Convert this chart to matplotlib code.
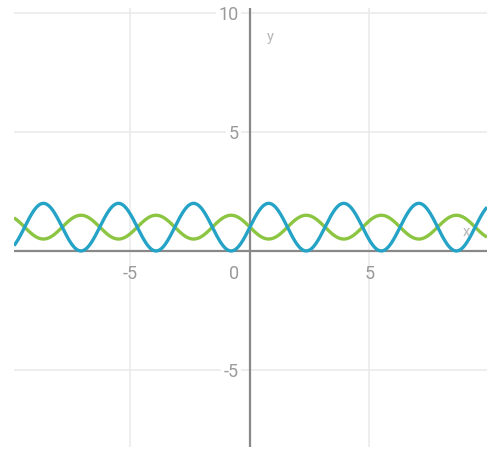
import matplotlib
matplotlib.use("Agg")
import matplotlib.pyplot as plt
import numpy as np

plt.rcParams['font.family'] = ['Roboto', 'DejaVu Sans']

# view window and ticks
x_min, x_max = -9.87, 9.92
y_min, y_max = -8.24, 10.21
x_ticks = [-5, 5]
y_ticks = [-5, 5, 10]

# the two plotted functions
x = np.linspace(x_min, x_max, 1000)
blue_y = 1 + np.sin(2 * x)
green_y = 1 - 0.5 * np.sin(2 * x)

fig = plt.figure(figsize=(5, 4.68), dpi=100)
ax = fig.add_axes([14 / 500, 1 - 447 / 468, 473 / 500, 439 / 468])
ax.set_xlim(x_min, x_max)
ax.set_ylim(y_min, y_max)
for s in ax.spines.values():
    s.set_visible(False)
ax.set_xticks([])
ax.set_yticks([])

grid_col = "#ebebeb"
for t in x_ticks:
    ax.axvline(t, color=grid_col, lw=1.2, zorder=0)
for t in y_ticks:
    ax.axhline(t, color=grid_col, lw=1.2, zorder=0)

ax.axhline(0, color="#888888", lw=1.6, zorder=1)
ax.axvline(0, color="#888888", lw=1.6, zorder=1)

ax.plot(x, blue_y, color="#25a3c6", lw=2.4, zorder=3, solid_capstyle="butt")
ax.plot(x, green_y, color="#8bc541", lw=2.4, zorder=2, solid_capstyle="butt")

lab_col = "#9a9a9a"
for t in x_ticks:
    ax.annotate(str(t), (t, 0), xytext=(0, -16.6), textcoords="offset points",
                ha="center", va="center", fontsize=13, color=lab_col)
ax.annotate("0", (0, 0), xytext=(-11.5, -16.6), textcoords="offset points",
            ha="center", va="center", fontsize=13, color=lab_col)
for t in y_ticks:
    ax.annotate(str(t), (0, t), xytext=(-8, -1.5), textcoords="offset points",
                ha="right", va="center", fontsize=13, color=lab_col,
                bbox=dict(boxstyle="square,pad=0.15", fc="white", ec="none"),
                zorder=4)

ax.text(466 / 500, 1 - 232 / 468, "x", transform=fig.transFigure,
        ha="center", va="center", fontsize=10.5, color="#b5b5b5")
ax.text(270 / 500, 1 - 37 / 468, "y", transform=fig.transFigure,
        ha="center", va="center", fontsize=10.5, color="#b5b5b5")

fig.savefig("out.png", dpi=100)
